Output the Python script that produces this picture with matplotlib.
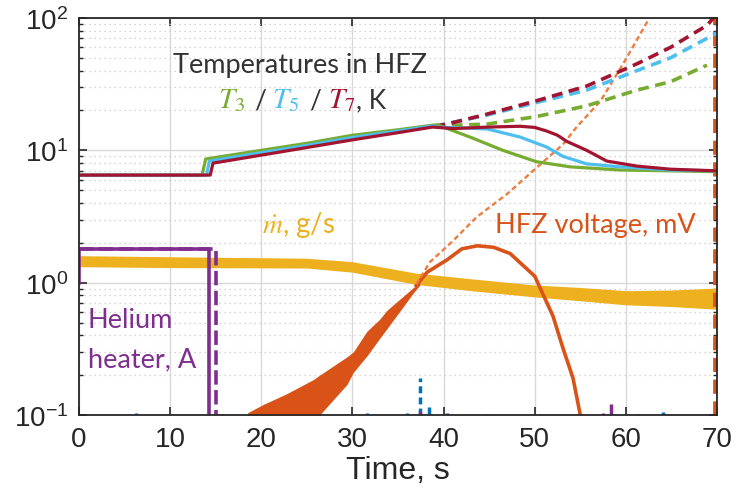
import numpy as np
import matplotlib.pyplot as plt
from matplotlib.ticker import NullLocator

plt.rcParams['font.family'] = ['Liberation Sans', 'DejaVu Sans']
plt.rcParams['mathtext.fontset'] = 'stix'

# HFZ temperatures T3 / T5 / T7 (solid), K
t_T3 = [0, 13.5, 13.9, 20, 25, 30, 35, 38.8, 39.3, 42.9, 46.5, 50.2, 53.9, 59.4, 64.9, 70]
T3 = [6.5, 6.5, 8.6, 10.0, 11.3, 13.0, 14.3, 15.5, 15.6, 12.6, 10.0, 8.2, 7.5, 7.1, 7.0, 6.9]
t_T5 = [0, 14.0, 14.3, 20, 25, 30, 35, 38.8, 39.3, 44.8, 48.4, 51.3, 53.1, 55.7, 59.4, 64.9, 70]
T5 = [6.5, 6.5, 8.3, 9.6, 10.9, 12.5, 14.0, 15.3, 15.0, 14.5, 12.6, 10.6, 9.0, 7.9, 7.5, 7.1, 7.0]
t_T7 = [0, 14.4, 14.7, 20, 25, 30, 35, 38.8, 41, 45, 48.4, 50, 51.3, 52.5, 53.5, 55.7, 57.9, 61.2, 64.9, 70]
T7 = [6.5, 6.5, 8.0, 9.2, 10.5, 12.0, 13.6, 15.0, 14.6, 15.0, 15.2, 14.9, 14.0, 13.0, 11.7, 10.0, 8.3, 7.6, 7.2, 7.0]

# dashed temperature curves
t_T3d = [39, 44.8, 50.2, 55.7, 61.2, 64.9, 68.9]
T3d = [15.3, 15.8, 18.0, 21.7, 28.5, 33.0, 44.0]
t_T5d = [39, 44.8, 50.2, 55.7, 61.2, 64.9, 70]
T5d = [15.2, 18.5, 23.0, 28.5, 40.0, 50.0, 77.0]
t_T7d = [39, 40.4, 44.8, 50.2, 55.7, 61.2, 64.9, 68.9, 69.6]
T7d = [15.2, 15.8, 18.8, 23.7, 30.6, 45.0, 60.0, 88.0, 100.0]

# mass flow, g/s (band)
t_m = [0, 10, 25, 30, 37, 43, 50, 55, 60, 65, 70]
m_hi = [1.6, 1.57, 1.53, 1.44, 1.18, 1.07, 0.96, 0.92, 0.87, 0.88, 0.91]
m_lo = [1.32, 1.3, 1.29, 1.2, 0.97, 0.87, 0.78, 0.73, 0.68, 0.66, 0.63]

# HFZ voltage, mV: noisy rising band, then hump
t_vb = [18.5, 20.2, 22.8, 25.7, 26.4, 29.4, 30.1, 31.6, 33.0, 33.8, 36.7, 37.4]
vb_hi = [0.104, 0.12, 0.145, 0.185, 0.2, 0.275, 0.3, 0.43, 0.53, 0.62, 0.92, 1.0]
vb_lo = [0.1, 0.1, 0.1, 0.1, 0.1, 0.17, 0.21, 0.28, 0.38, 0.45, 0.84, 0.96]
t_vh = [37.0, 38.2, 40.4, 42.0, 43.7, 45.5, 47.3, 50.0, 52.0, 53.1, 54.2, 55.0]
vh = [0.95, 1.2, 1.49, 1.8, 1.9, 1.85, 1.66, 1.12, 0.56, 0.32, 0.19, 0.1]
# extrapolated voltage (thin dotted)
t_vx = [37.0, 38.5, 41.0, 43.6, 47.0, 50.9, 53.1, 54.6, 57.2, 59.7, 62.4, 63.0]
vx = [0.97, 1.43, 2.06, 3.12, 4.7, 8.15, 11.1, 15.0, 23.5, 45.0, 95.0, 120.0]

# helium heater, A
t_h1 = [0, 0, 14.3, 14.3]
h1 = [1.0, 1.8, 1.8, 0.05]
t_h2 = [0, 15.0, 15.0]
h2 = [1.8, 1.8, 0.05]

# small spikes at the bottom
t_sb = [6.3, 15.7, 31.6, 36.0, 38.4, 44.9, 64.1]
sb = [0.103, 0.102, 0.103, 0.104, 0.115, 0.102, 0.105]
t_sp = [37.4, 40.4, 57.5, 58.4, 61.2]
sp = [0.108, 0.104, 0.104, 0.122, 0.101]

green, lblue, dred = '#77AC30', '#4DBEEE', '#A2142F'
orange, yellow, purple, blue = '#D95319', '#EDB120', '#7E2F8E', '#0072BD'
dark = '#333333'

W, H = 737, 502
fig = plt.figure(figsize=(W / 100, H / 100), dpi=100)
ax = fig.add_axes([79 / W, 1 - 416 / H, 638 / W, 397 / H])
ax.set_yscale('log')
ax.set_xlim(0, 70)
ax.set_ylim(0.1, 100)
ax.set_xticks(range(0, 71, 10))
ax.xaxis.set_minor_locator(NullLocator())
ax.grid(True, which='major', color='#d9d9d9', lw=1.0)
ax.grid(True, which='minor', axis='y', color='#c8c8c8', ls=(0, (1, 3)), lw=0.9)
ax.set_axisbelow(True)
ax.tick_params(which='both', direction='in', top=True, right=True, colors='#262626',
               labelsize=20, pad=8)
ax.tick_params(which='major', length=6, width=1.2)
ax.tick_params(which='minor', length=3, width=1.0)
for s in ax.spines.values():
    s.set_color('#262626')
    s.set_linewidth(1.3)
ax.set_xlabel('Time, s', fontsize=23, color='#262626', labelpad=2)

# mass flow
ax.fill_between(t_m, m_lo, m_hi, color=yellow, lw=0)

# voltage
ax.fill_between(t_vb, vb_lo, vb_hi, color=orange, lw=0)
ax.plot(t_vh, vh, color=orange, lw=2.6)
ax.plot(t_vx, vx, color='#EE7D3F', lw=1.7, ls=(0, (2.2, 1.4)))
ax.plot([69.75, 69.75], [0.1, 100], color=orange, lw=3.4, ls=(0, (3, 1.6)))

# heater
ax.plot(t_h1, h1, color=purple, lw=2.6)
ax.plot(t_h2, h2, color=purple, lw=2.6, ls=(0, (4, 1.5)))

# spikes
ax.vlines(t_sb, 0.1, sb, color=blue, lw=2.5)
ax.vlines([37.4], 0.1, [0.19], color=blue, lw=2.5, ls=(0, (2, 1.2)))
ax.vlines(t_sp, 0.1, sp, color=purple, lw=2.5)

# temperatures
ax.plot(t_T3d, T3d, color=green, lw=2.6, ls=(0, (3, 1.8)))
ax.plot(t_T5d, T5d, color=lblue, lw=2.6, ls=(0, (3, 1.8)))
ax.plot(t_T7d, T7d, color=dred, lw=2.6, ls=(0, (3, 1.8)))
ax.plot(t_T3, T3, color=green, lw=2.3)
ax.plot(t_T5, T5, color=lblue, lw=2.3)
ax.plot(t_T7, T7, color=dred, lw=2.3)


def ftext(x, y, s, color, size=19, family='Lato'):
    fig.text(x / W, 1 - y / H, s, color=color, fontsize=size, family=family,
             ha='left', va='baseline')


ftext(173, 73, 'Temperatures in HFZ', dark, 19.5)
ftext(218, 108, r'$T_3$', green, 21)
ftext(254, 108, '/', dark)
ftext(272, 108, r'$T_5$', lblue, 21)
ftext(309, 108, '/', dark)
ftext(328, 108, r'$T_7$', dred, 21)
ftext(356, 108, ', K', dark)
ftext(262, 233, r'$\dot{m}$, g/s', yellow, 20)
ftext(495, 233, 'HFZ voltage, mV', orange, 19.5)
ftext(88, 328, 'Helium', purple, 19.5)
ftext(88, 367, 'heater, A', purple, 19.5)

fig.savefig('out.png', dpi=100)
